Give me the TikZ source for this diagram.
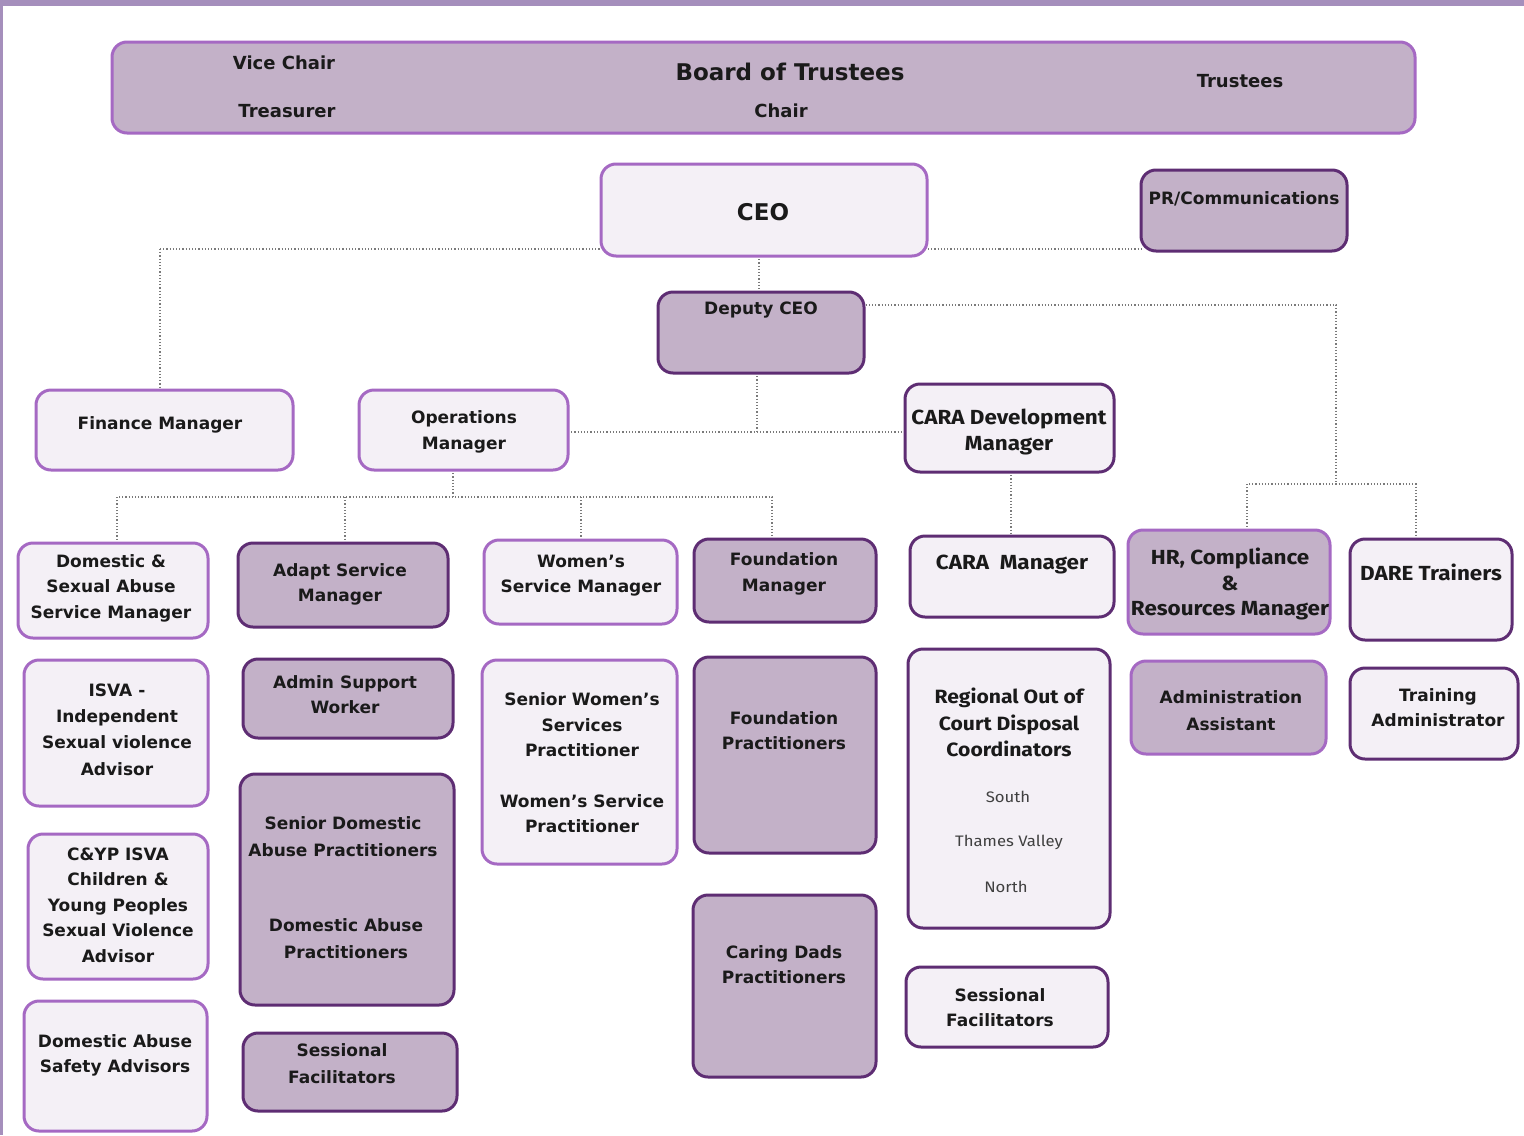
\documentclass[tikz,border=0pt]{standalone}
\usepackage{fontspec}
\setmainfont{DejaVu Sans}
\newfontfamily\narrowfont{Fira Sans}[FakeStretch=1.1]
\definecolor{mauve}{HTML}{C3B1C8}
\definecolor{pale}{HTML}{F4F0F6}
\definecolor{lborder}{HTML}{A569C3}
\definecolor{dborder}{HTML}{5E2D73}
\definecolor{band}{HTML}{A58FBC}
\definecolor{textcol}{HTML}{1A1A1A}
\definecolor{conncol}{HTML}{7A7A7A}
\newcommand\orgbox[6]{\node[#6, minimum width={(#4-#2)*0.5pt}, minimum height={(#5-#3)*0.5pt}] (#1) at ({(#2+#4)/2},{(#3+#5)/2}) {};}
\tikzset{
  boxbase/.style={draw, rounded corners=7.5pt, line width=1.5pt, inner sep=0pt, outer sep=0pt},
  mauveL/.style={boxbase, fill=mauve, draw=lborder},
  mauveD/.style={boxbase, fill=mauve, draw=dborder},
  paleL/.style={boxbase, fill=pale, draw=lborder},
  paleD/.style={boxbase, fill=pale, draw=dborder},
  txt/.style={align=center, inner sep=0pt, text=textcol, font=\fontsize{8.5}{12.7}\selectfont\bfseries},
  ntxt/.style={align=center, inner sep=0pt, text=textcol, font=\narrowfont\fontsize{10.2}{12.7}\selectfont\bfseries},
  rtxt/.style={align=center, inner sep=0pt, text=black!75, font=\narrowfont\fontsize{7.6}{10}\selectfont},
  bigtxt/.style={align=center, inner sep=0pt, text=textcol, font=\fontsize{11.5}{14}\selectfont\bfseries},
  conn/.style={draw=conncol, line width=0.6pt, densely dotted}
}
\begin{document}
\begin{tikzpicture}[x=0.5pt,y=-0.5pt]
\useasboundingbox (0,0) rectangle (1524,1135);
\fill[white] (0,0) rectangle (1524,1135);
\fill[band] (0,0) rectangle (1524,6);
\fill[band] (0,0) rectangle (3,1135);

% coordinates for connectors
\coordinate (cL) at (160,249);
\coordinate (cR) at (1000,249);
\coordinate (jc) at (759,0);
\coordinate (dr1) at (1336,305);
\coordinate (dr2) at (1336,484);
\coordinate (h1) at (1247,484);
\coordinate (h2) at (1416,484);
\coordinate (j2) at (757,432);
\coordinate (j3) at (453,497);
\coordinate (b1) at (117,497);
\coordinate (b2) at (345,497);
\coordinate (b3) at (581,497);
\coordinate (b4) at (772,497);
\coordinate (k1) at (1011,0);

% connectors (behind boxes)
\draw[conn] (cL) -- (cR);
\draw[conn] (cL) -- (cL |- 0,390);
\draw[conn] (cR) -- (1141,249);
\draw[conn] (jc |- 0,256) -- (jc |- 0,292);
\draw[conn] (840,305) -- (dr1) -- (dr2);
\draw[conn] (h1 |- 0,530) -- (h1) -- (h2) -- (h2 |- 0,539);
\draw[conn] (757,373) -- (j2);
\draw[conn] (568,432) -- (905,432);
\draw[conn] (j3 |- 0,470) -- (j3);
\draw[conn] (b1 |- 0,543) -- (b1) -- (b4) -- (b4 |- 0,539);
\draw[conn] (b2) -- (b2 |- 0,543);
\draw[conn] (b3) -- (b3 |- 0,540);
\draw[conn] (k1 |- 0,472) -- (k1 |- 0,536);

% boxes
\orgbox{board}{112}{42}{1415}{133}{mauveL}
\orgbox{ceo}{601}{164}{927}{256}{paleL}
\orgbox{pr}{1141}{170}{1347}{251}{mauveD}
\orgbox{dep}{658}{292}{864}{373}{mauveD}
\orgbox{fin}{36}{390}{293}{470}{paleL}
\orgbox{ops}{359}{390}{568}{470}{paleL}
\orgbox{cdev}{905}{384}{1114}{472}{paleD}
\orgbox{dsa}{18}{543}{208}{638}{paleL}
\orgbox{adapt}{238}{543}{448}{627}{mauveD}
\orgbox{wsm}{484}{540}{677}{624}{paleL}
\orgbox{fnd}{694}{539}{876}{622}{mauveD}
\orgbox{cman}{910}{536}{1114}{617}{paleD}
\orgbox{hr}{1128}{530}{1330}{634}{mauveL}
\orgbox{dare}{1350}{539}{1512}{640}{paleD}
\orgbox{isva}{24}{660}{208}{806}{paleL}
\orgbox{asw}{243}{659}{453}{738}{mauveD}
\orgbox{swp}{482}{660}{677}{864}{paleL}
\orgbox{fp}{694}{657}{876}{853}{mauveD}
\orgbox{rocd}{908}{649}{1110}{928}{paleD}
\orgbox{aa}{1131}{661}{1326}{754}{mauveL}
\orgbox{ta}{1350}{668}{1518}{759}{paleD}
\orgbox{cyp}{28}{834}{208}{979}{paleL}
\orgbox{sdap}{240}{774}{454}{1005}{mauveD}
\orgbox{cdp}{693}{895}{876}{1077}{mauveD}
\orgbox{sfc}{906}{967}{1108}{1047}{paleD}
\orgbox{dasa}{24}{1001}{207}{1131}{paleL}
\orgbox{sfa}{243}{1033}{457}{1111}{mauveD}

% texts
\node[txt, font=\fontsize{9}{12}\selectfont\bfseries] (t-vc) at (284,63) {Vice Chair};
\node[txt, font=\fontsize{9}{12}\selectfont\bfseries] (t-tr) at (287,111) {Treasurer};
\node[bigtxt] (t-bot) at (790,72) {Board of Trustees};
\node[txt, font=\fontsize{9}{12}\selectfont\bfseries] (t-ch) at (781,111) {Chair};
\node[txt, font=\fontsize{9}{12}\selectfont\bfseries] (t-ts) at (1240,81) {Trustees};
\node[bigtxt] (t-ceo) at (763,212) {CEO};
\node[txt] (t-pr) at (1244,199) {PR/Communications};
\node[txt] (t-dep) at (761,310) {Deputy CEO};
\node[txt] (t-fin) at (160,425) {Finance Manager};
\node[txt] (t-ops) at (464,432) {Operations\\Manager};
\node[ntxt] (t-cdev) at (1009,432) {CARA Development\\Manager};
\node[txt] (t-dsa) at (111,588) {Domestic \&\\Sexual Abuse\\Service Manager};
\node[txt] (t-adapt) at (340,584.5) {Adapt Service\\Manager};
\node[txt] (t-wsm) at (581,575.5) {Women's\\Service Manager};
\node[txt] (t-fnd) at (784,574) {Foundation\\Manager};
\node[ntxt] (t-cman) at (1012,565) {CARA\ \ Manager};
\node[ntxt] (t-hr) at (1230,584) {HR, Compliance\\\&\\Resources Manager};
\node[ntxt] (t-dare) at (1431,572) {DARE Trainers};
\node[txt, font=\fontsize{8.5}{13.1}\selectfont\bfseries] (t-isva) at (117,729.5) {ISVA -\\Independent\\Sexual violence\\Advisor};
\node[txt] (t-asw) at (345,694.5) {Admin Support\\Worker};
\node[txt] (t-swp1) at (582,725) {Senior Women's\\Services\\Practitioner};
\node[txt] (t-swp2) at (582,813.5) {Women's Service\\Practitioner};
\node[txt] (t-fp) at (784,730.5) {Foundation\\Practitioners};
\node[ntxt, font=\narrowfont\fontsize{9.6}{13.2}\selectfont\bfseries] (t-rocd) at (1009,722.5) {Regional Out of\\Court Disposal\\Coordinators};
\node[rtxt] (t-south) at (1008,797) {South};
\node[rtxt] (t-tv) at (1009,842) {Thames Valley};
\node[rtxt] (t-north) at (1006,887) {North};
\node[txt, font=\fontsize{8.5}{13.5}\selectfont\bfseries] (t-aa) at (1231,710.5) {Administration\\Assistant};
\node[txt] (t-ta) at (1438,707.5) {Training\\Administrator};
\node[txt] (t-cyp) at (118,905) {C\&YP ISVA\\Children \&\\Young Peoples\\Sexual Violence\\Advisor};
\node[txt, font=\fontsize{8.5}{13.5}\selectfont\bfseries] (t-sdap1) at (343,836.5) {Senior Domestic\\Abuse Practitioners};
\node[txt, font=\fontsize{8.5}{13.5}\selectfont\bfseries] (t-sdap2) at (346,938.5) {Domestic Abuse\\Practitioners};
\node[txt] (t-cdp) at (784,964.5) {Caring Dads\\Practitioners};
\node[txt] (t-sfc) at (1000,1007.5) {Sessional\\Facilitators};
\node[txt] (t-dasa) at (115,1055.5) {Domestic Abuse\\Safety Advisors};
\node[txt, font=\fontsize{8.5}{13.5}\selectfont\bfseries] (t-sfa) at (342,1063.5) {Sessional\\Facilitators};
\end{tikzpicture}
\end{document}
